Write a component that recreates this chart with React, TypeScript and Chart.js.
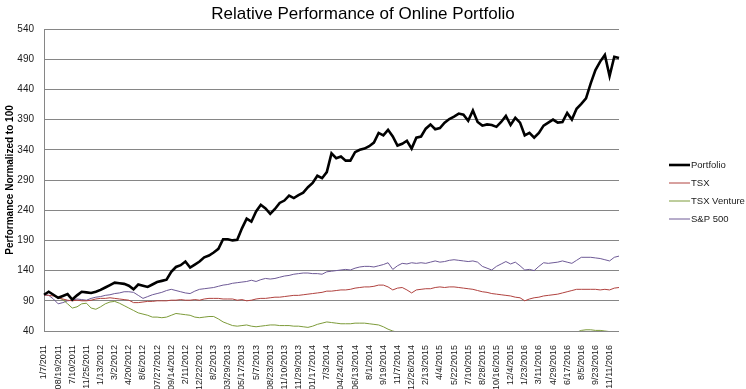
import React, { useEffect, useRef } from "react";
import { Chart, registerables } from "chart.js";

Chart.register(...registerables);

const tickLabels = [
  "1/7/2011", "08/19/2011", "7/10/2011", "11/25/2011", "1/13/2012", "3/2/2012", "4/20/2012", "8/6/2012",
  "07/27/2012", "09/14/2012", "2/11/2012", "12/22/2012", "8/2/2013", "03/29/2013", "05/17/2013", "5/7/2013",
  "08/23/2013", "11/10/2013", "11/29/2013", "01/17/2014", "7/3/2014", "04/24/2014", "06/13/2014", "8/1/2014",
  "9/19/2014", "11/7/2014", "12/26/2014", "2/13/2015", "4/4/2015", "5/22/2015", "7/10/2015", "8/28/2015",
  "10/16/2015", "12/4/2015", "1/23/2016", "3/11/2016", "4/29/2016", "6/17/2016", "8/5/2016", "9/23/2016",
  "11/11/2016",
];

const portfolio = [
  100, 105, 100, 95, 98, 101, 92, 99, 105, 104, 103, 105, 108, 112, 116, 120, 119, 118, 115, 109,
  117, 115, 113, 117, 121, 123, 125, 138, 146, 149, 155, 145, 150, 155, 162, 165, 170, 176, 192, 192,
  190, 191, 210, 226, 221, 238, 249, 243, 234, 242, 252, 256, 264, 260, 265, 269, 278, 285, 297, 293,
  303, 334, 326, 329, 322, 322, 336, 340, 342, 346, 352, 368, 364, 373, 362, 347, 350, 355, 342, 360,
  362, 375, 382, 374, 376, 385, 391, 395, 400, 398, 388, 405, 386, 380, 382, 381, 378, 386, 396, 381,
  393, 385, 364, 368, 360, 368, 380, 385, 390, 385, 386, 401, 390, 408, 416, 425, 450, 472, 486, 497,
  462, 494, 492,
];

const tsx = [
  100, 99, 98, 95, 93, 91, 90, 91, 90, 90, 91, 93, 94, 94, 95, 94, 93, 92, 91, 87,
  87, 88, 89, 89, 90, 90, 90, 91, 91, 92, 91, 91, 92, 91, 93, 94, 94, 94, 93, 93,
  93, 91, 92, 90, 91, 93, 94, 94, 95, 96, 96, 97, 98, 99, 99, 100, 101, 102, 103, 104,
  106, 106, 107, 108, 108, 109, 111, 112, 113, 113, 114, 116, 116, 113, 108, 111, 112, 108, 103, 108,
  109, 110, 110, 112, 113, 112, 113, 113, 112, 111, 110, 109, 107, 105, 104, 102, 101, 100, 99, 98,
  96, 95, 90, 93, 95, 96, 98, 99, 100, 101, 103, 105, 107, 109, 109, 109, 109, 109, 108, 109,
  108, 111, 112,
];

const tsxVenture = [
  100, 106, 100, 95, 92, 85, 78, 80, 85, 86, 78, 76, 80, 85, 88, 89, 86, 82, 78, 74,
  70, 68, 66, 63, 63, 62, 63, 66, 69, 68, 67, 66, 63, 62, 63, 64, 64, 60, 55, 52,
  49, 48, 49, 50, 48, 47, 48, 49, 50, 50, 49, 49, 49, 48, 48, 47, 46, 48, 51, 53,
  55, 54, 53, 52, 52, 52, 53, 53, 53, 52, 51, 50, 47, 43, 40, 38, 36, 35, 33, 32,
  31, 31, 30, 30, 29, 29, 29, 28, 28, 28, 27, 27, 26, 26, 26, 25, 25, 25, 25, 26,
  26, 25, 24, 25, 26, 27, 29, 30, 31, 33, 34, 36, 37, 38, 41, 42, 42, 41, 41, 40,
  39, 38, 38,
];

const sp500 = [
  100, 99, 93, 85, 87, 90, 91, 93, 92, 91, 94, 96, 97, 99, 100, 102, 103, 105, 105, 104,
  99, 94, 97, 100, 102, 104, 107, 109, 107, 105, 103, 102, 106, 109, 110, 111, 112, 114, 116, 117,
  119, 120, 121, 122, 124, 122, 125, 127, 126, 127, 129, 131, 132, 134, 135, 136, 136, 135, 135, 134,
  138, 139, 140, 141, 142, 141, 144, 146, 147, 147, 146, 148, 150, 153, 142, 148, 152, 151, 153, 152,
  153, 152, 154, 156, 154, 155, 157, 158, 157, 156, 155, 156, 154, 147, 144, 141, 147, 151, 155, 151,
  154, 148, 141, 142, 140, 147, 153, 152, 153, 154, 156, 154, 152, 157, 162, 162, 162, 161, 160, 158,
  156, 162, 164,
];

const seriesNames = ["Portfolio", "TSX", "TSX Venture", "S&P 500"];
const seriesColors = ["#000000", "#B0423F", "#7D9B3A", "#6E5A96"];
const seriesWidths = [2.6, 1, 1, 1];
const yTicks = [40, 90, 140, 190, 240, 290, 340, 390, 440, 490, 540];

const POINTS_PER_TICK = 3;

const titlePlugin = {
  id: "customTitle",
  afterDraw(chart: any) {
    const ctx = chart.ctx;
    ctx.save();
    ctx.font = '17px "Liberation Sans", Arial, sans-serif';
    ctx.fillStyle = "#000";
    ctx.textAlign = "center";
    ctx.textBaseline = "middle";
    ctx.fillText("Relative Performance of Online Portfolio", 363, 14);
    ctx.restore();
  },
};

const legendPlugin = {
  id: "customLegend",
  afterDraw(chart: any) {
    const ctx = chart.ctx;
    ctx.save();
    ctx.font = '9.5px "Liberation Sans", Arial, sans-serif';
    ctx.textBaseline = "middle";
    ctx.textAlign = "left";
    chart.data.datasets.forEach((ds: any, i: number) => {
      const y = 165 + i * 18;
      ctx.strokeStyle = ds.borderColor;
      ctx.lineWidth = ds.borderWidth;
      ctx.beginPath();
      ctx.moveTo(669, y);
      ctx.lineTo(690, y);
      ctx.stroke();
      ctx.fillStyle = "#1a1a1a";
      ctx.fillText(ds.label, 691, y);
    });
    ctx.restore();
  },
};

export default function App() {
  const ref = useRef<HTMLCanvasElement>(null);

  useEffect(() => {
    if (!ref.current) return;
    const n = portfolio.length;
    const labels = Array.from({ length: n }, (_, i) =>
      i % POINTS_PER_TICK === 0 ? tickLabels[i / POINTS_PER_TICK] ?? "" : ""
    );
    const seriesData = [portfolio, tsx, tsxVenture, sp500];
    const chart = new Chart(ref.current, {
      type: "line",
      data: {
        labels,
        datasets: seriesNames.map((name, i) => ({
          label: name,
          data: seriesData[i],
          borderColor: seriesColors[i],
          backgroundColor: seriesColors[i],
          borderWidth: seriesWidths[i],
          pointRadius: 0,
          tension: 0,
          fill: false,
        })),
      },
      options: {
        animation: false,
        responsive: false,
        maintainAspectRatio: false,
        layout: { padding: { top: 29, right: 127, left: 0, bottom: 0 } },
        plugins: {
          legend: { display: false },
          title: { display: false },
          tooltip: { enabled: false },
        },
        scales: {
          x: {
            type: "category",
            offset: false,
            grid: { display: false },
            border: { display: false },
            ticks: {
              autoSkip: false,
              maxRotation: 90,
              minRotation: 90,
              padding: 6,
              color: "#1a1a1a",
              font: { family: '"Liberation Sans", Arial, sans-serif', size: 9 },
            },
            afterFit: (scale: any) => {
              scale.height = 58;
            },
          },
          y: {
            min: 40,
            max: 540,
            afterBuildTicks: (scale: any) => {
              scale.ticks = yTicks.map((v) => ({ value: v }));
            },
            grid: { color: "#868686", lineWidth: 1, drawTicks: false },
            border: { display: true, color: "#868686", width: 1 },
            ticks: {
              padding: 10,
              color: "#1a1a1a",
              font: { family: '"Liberation Sans", Arial, sans-serif', size: 10 },
            },
            title: {
              display: true,
              text: "Performance Normalized to 100",
              color: "#000",
              padding: { top: 4, bottom: 0 },
              font: { family: '"Liberation Sans", Arial, sans-serif', size: 10, weight: "bold" },
            },
            afterFit: (scale: any) => {
              scale.width = 44;
            },
          },
        },
      },
      plugins: [titlePlugin, legendPlugin],
    });
    return () => chart.destroy();
  }, []);

  return (
    <div style={{ position: "fixed", left: 0, top: 0, width: 746, height: 389, background: "#fff" }}>
      <canvas ref={ref} width={746} height={389} style={{ width: 746, height: 389 }} />
    </div>
  );
}
